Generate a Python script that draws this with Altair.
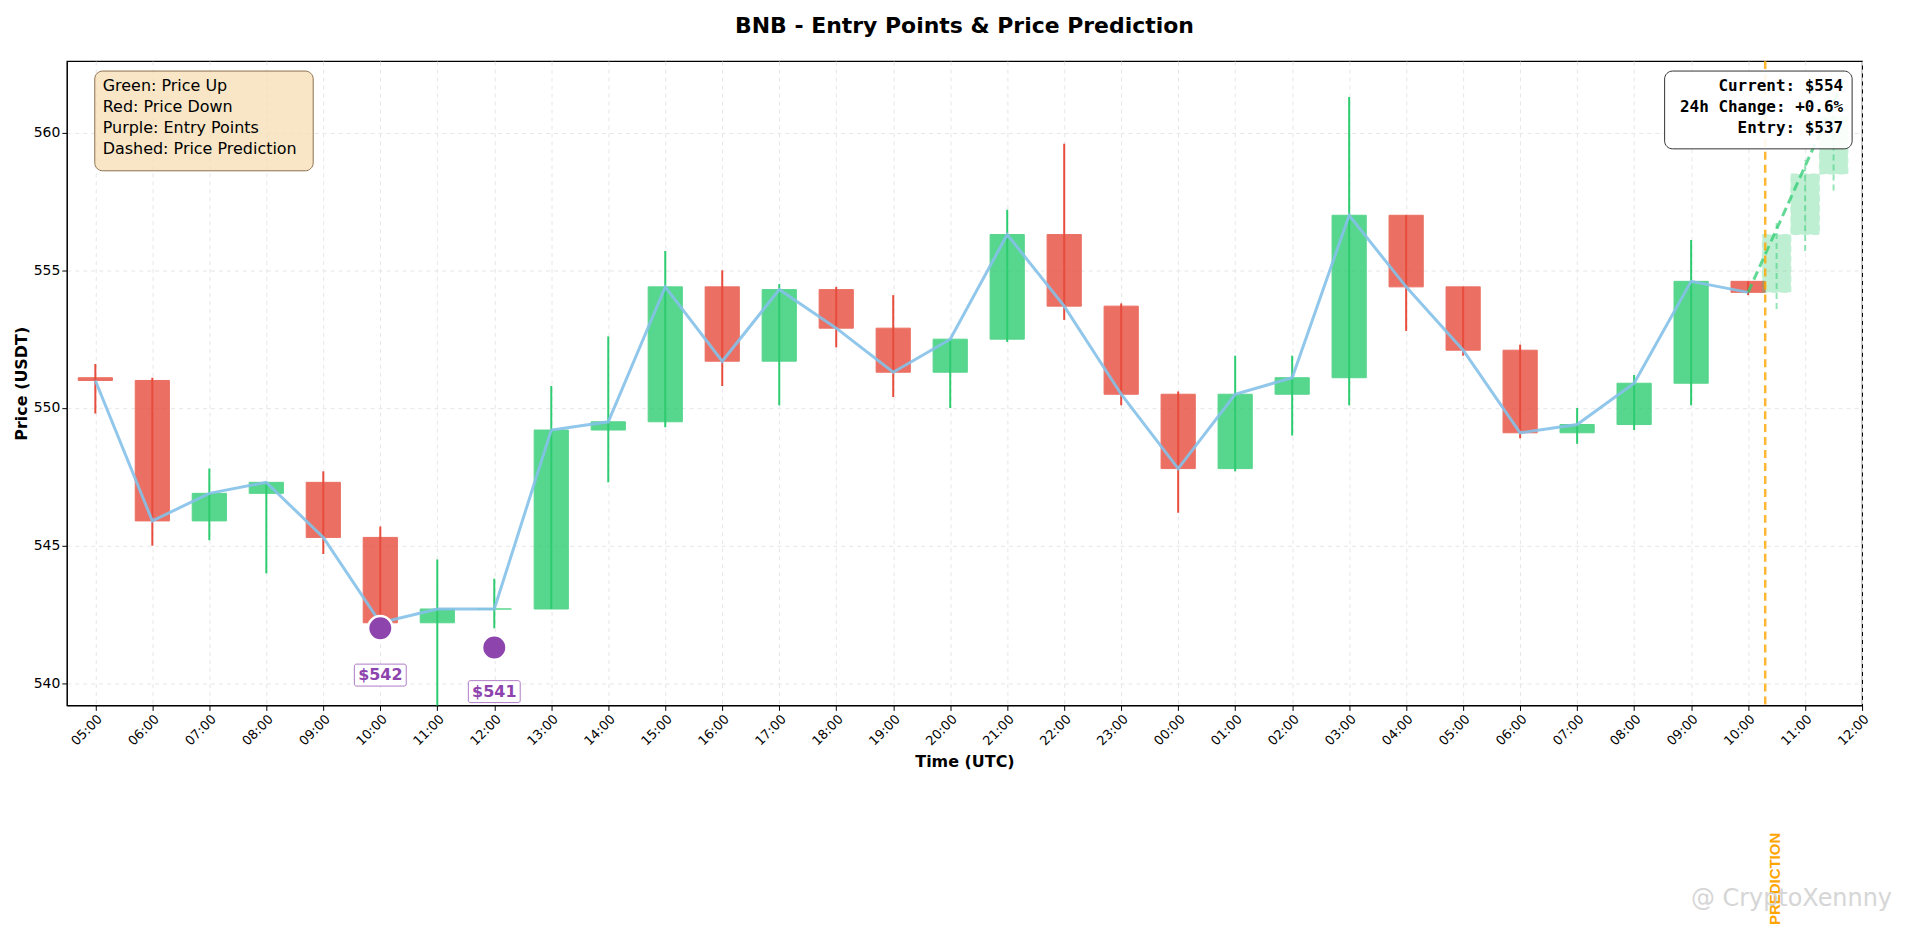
import pandas as pd
import altair as alt

hours = ["05:00", "06:00", "07:00", "08:00", "09:00", "10:00", "11:00", "12:00", "13:00", "14:00",
         "15:00", "16:00", "17:00", "18:00", "19:00", "20:00", "21:00", "22:00", "23:00", "00:00",
         "01:00", "02:00", "03:00", "04:00", "05:00", "06:00", "07:00", "08:00", "09:00", "10:00",
         "11:00", "12:00"]

opens  = [551.1, 551.0, 545.9, 546.9, 547.3, 545.3, 542.2, 542.7, 542.7, 549.2, 549.5, 554.4, 551.7, 554.3, 552.9,
          551.3, 552.5, 556.3, 553.7, 550.5, 547.8, 550.5, 551.1, 557.0, 554.4, 552.1, 549.1, 549.4, 550.9, 554.6]
closes = [551.0, 545.9, 546.9, 547.3, 545.3, 542.2, 542.7, 542.7, 549.2, 549.5, 554.4, 551.7, 554.3, 552.9, 551.3,
          552.5, 556.3, 553.7, 550.5, 547.8, 550.5, 551.1, 557.0, 554.4, 552.1, 549.1, 549.4, 550.9, 554.6, 554.2]
highs  = [551.6, 551.1, 547.8, 547.3, 547.7, 545.7, 544.5, 543.8, 550.8, 552.6, 555.7, 555.0, 554.5, 554.4, 554.1,
          552.5, 557.2, 559.6, 553.8, 550.6, 551.9, 551.9, 561.3, 557.0, 554.4, 552.3, 550.0, 551.2, 556.1, 554.6]
lows   = [549.8, 545.0, 545.2, 544.0, 544.7, 542.2, 538.5, 542.0, 542.7, 547.3, 549.3, 550.8, 550.1, 552.2, 550.4,
          550.0, 552.4, 553.2, 550.1, 546.2, 547.7, 549.0, 550.1, 552.8, 551.9, 548.9, 548.7, 549.2, 550.1, 554.1]

# prediction candles (half-hour spacing)
pred_x     = [29.5, 30.0, 30.5]
pred_open  = [554.2, 556.3, 558.5]
pred_close = [556.3, 558.5, 560.6]
pred_high  = [556.8, 559.0, 561.0]
pred_low   = [553.6, 555.7, 557.9]
pred_line_x = [29.0, 30.7]
pred_line_y = [554.2, 562.0]

entry_x = [5, 7]
entry_y = [542.0, 541.3]
entry_label_y = [540.3, 539.7]
entry_text = ["$542", "$541"]

GREEN, RED, PURPLE = "#2ecc71", "#e74c3c", "#8e44ad"
XD, YD = [-0.5, 31.0], [539.2, 562.6]

df = pd.DataFrame({"i": range(len(opens)), "open": opens, "close": closes, "high": highs, "low": lows})
df["x1"] = df["i"] - 0.3
df["x2"] = df["i"] + 0.3
df["dir"] = ["up" if c >= o else "down" for o, c in zip(opens, closes)]

pred = pd.DataFrame({"x": pred_x, "open": pred_open, "close": pred_close, "high": pred_high, "low": pred_low})
pred["x1"] = pred["x"] - 0.25
pred["x2"] = pred["x"] + 0.25

xs = alt.Scale(domain=XD, nice=False, zero=False)
ys = alt.Scale(domain=YD, nice=False, zero=False)
label_js = "[" + ",".join(f"'{h}'" for h in hours) + "]"
xax = alt.Axis(values=list(range(32)), labelExpr=f"{label_js}[datum.value]", labelAngle=-45, labelAlign="right",
               labelBaseline="top", title="Time (UTC)", titleFontWeight="bold", titleFontSize=16,
               gridDash=[4, 4], gridColor="#e6e6e6", labelFontSize=13, labelColor="black", tickColor="black",
               domainColor="black", titlePadding=6)
yax = alt.Axis(values=[540, 545, 550, 555, 560], title="Price (USDT)", titleFontWeight="bold", titleFontSize=16,
               gridDash=[4, 4], gridColor="#e6e6e6", labelFontSize=14, labelColor="black", tickColor="black",
               domainColor="black")
color = alt.Color("dir:N", scale=alt.Scale(domain=["up", "down"], range=[GREEN, RED]), legend=None)

base = alt.Chart(df)
wicks = base.mark_rule(strokeWidth=2, clip=True).encode(
    x=alt.X("i:Q", scale=xs, axis=xax), y=alt.Y("low:Q", scale=ys, axis=yax), y2="high:Q", color=color)
bodies = base.mark_rect(opacity=0.8, strokeWidth=1).encode(
    x="x1:Q", x2="x2:Q", y="open:Q", y2="close:Q", color=color, stroke=color)
line = base.mark_line(color="#85c1e9", strokeWidth=3, opacity=0.9).encode(x="i:Q", y="close:Q")

pbase = alt.Chart(pred)
pwicks = pbase.mark_rule(color=GREEN, opacity=0.5, strokeDash=[6, 4], strokeWidth=2).encode(x="x:Q", y="low:Q", y2="high:Q")
pbodies = pbase.mark_rect(color=GREEN, opacity=0.3, stroke=GREEN, strokeDash=[6, 4]).encode(
    x="x1:Q", x2="x2:Q", y="open:Q", y2="close:Q")
pline = alt.Chart(pd.DataFrame({"x": pred_line_x, "y": pred_line_y})).mark_line(
    color=GREEN, strokeDash=[9, 5], strokeWidth=3, opacity=0.75, clip=True).encode(x="x:Q", y="y:Q")

vline = alt.Chart(pd.DataFrame({"x": [29.3]})).mark_rule(color="#ffa500", strokeDash=[8, 5], strokeWidth=2.5,
                                                          opacity=0.8).encode(x="x:Q")
vtext = alt.Chart(pd.DataFrame({"x": [29.3], "t": ["PREDICTION"]})).mark_text(
    angle=270, color="#ffa500", fontWeight="bold", fontSize=15, dx=-40, dy=10, clip=False).encode(
    x="x:Q", y=alt.value(780), text="t:N")

edf = pd.DataFrame({"x": entry_x, "y": entry_y, "ly": entry_label_y, "t": entry_text})
entries = alt.Chart(edf).mark_point(filled=True, size=600, color=PURPLE, opacity=1,
                                     stroke="white", strokeWidth=2.5).encode(x="x:Q", y="y:Q")
elabels_box = alt.Chart(edf).mark_rect(fill="white", stroke=PURPLE, strokeOpacity=0.7, cornerRadius=2,
                                        width=52, height=22).encode(x="x:Q", y="ly:Q")
elabels = alt.Chart(edf).mark_text(color=PURPLE, fontWeight="bold", fontSize=16, font="DejaVu Sans").encode(
    x="x:Q", y="ly:Q", text="t:N")

legend_lines = ["Green: Price Up", "Red: Price Down", "Purple: Entry Points", "Dashed: Price Prediction"]
lbox = alt.Chart(pd.DataFrame({"a": [0]})).mark_rect(
    fill="#f5deb3", fillOpacity=0.75, stroke="#8b6f4e", cornerRadius=8).encode(
    x=alt.value(28), x2=alt.value(247), y=alt.value(10), y2=alt.value(110))
ltext = alt.Chart(pd.DataFrame({"a": [0]})).mark_text(
    align="left", baseline="top", fontSize=16, lineHeight=21, font="DejaVu Sans", color="black").encode(
    x=alt.value(36), y=alt.value(17), text=alt.value(legend_lines))

info_lines = ["Current: $554", "24h Change: +0.6%", "Entry: $537"]
ibox = alt.Chart(pd.DataFrame({"a": [0]})).mark_rect(
    fill="white", fillOpacity=0.9, stroke="#333333", cornerRadius=8).encode(
    x=alt.value(1602), x2=alt.value(1790), y=alt.value(10), y2=alt.value(88))
itext = alt.Chart(pd.DataFrame({"a": [0]})).mark_text(
    align="right", baseline="top", fontSize=16, lineHeight=21, font="DejaVu Sans Mono", fontWeight="bold",
    color="black").encode(x=alt.value(1781), y=alt.value(17), text=alt.value(info_lines))

wm = alt.Chart(pd.DataFrame({"a": [0]})).mark_text(
    align="right", fontSize=24, color="#cccccc", opacity=0.8, font="DejaVu Sans").encode(
    x=alt.value(1830), y=alt.value(840), text=alt.value("@ CryptoXennny"))

chart = alt.layer(
    wicks, bodies, line, pbodies, pwicks, pline, vline, vtext, entries, elabels_box, elabels,
    lbox, ltext, ibox, itext, wm
).properties(
    width=1800, height=646,
    title=alt.Title("BNB - Entry Points & Price Prediction", fontSize=22, fontWeight="bold",
                    font="DejaVu Sans", offset=22),
).configure_view(stroke="black", strokeWidth=1.2).configure_axis(
    labelFont="DejaVu Sans", titleFont="DejaVu Sans")

chart.save("out.html", embed_options={"renderer": "svg", "actions": False})
